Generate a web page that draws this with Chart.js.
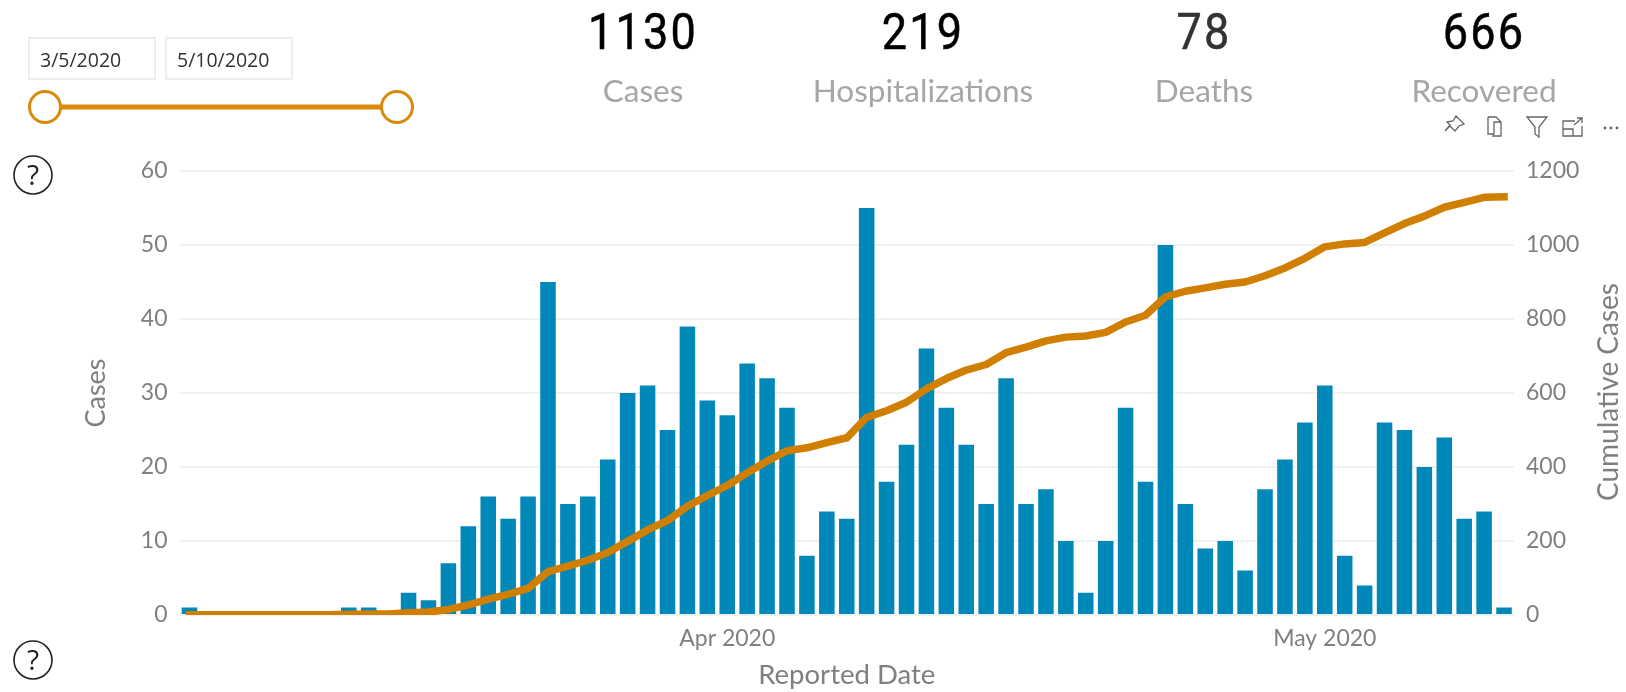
<!DOCTYPE html>
<html><head><meta charset="utf-8">
<script src="https://cdn.jsdelivr.net/npm/chart.js@4"></script>
<style>
html,body{margin:0;padding:0;background:#fff;width:1626px;height:692px;overflow:hidden;font-family:"Open Sans",sans-serif}
#c{position:absolute;left:0;top:0}
.abs{position:absolute;white-space:nowrap}
.kv{transform:translateX(-50%) scaleX(.9);font-family:Roboto,sans-serif;font-weight:400;font-size:50px;color:#000;letter-spacing:2.5px;top:3px;line-height:58px;-webkit-text-stroke:.5px currentColor}
.kl{transform:translateX(-50%);font-size:31.5px;color:#a6a6a6;top:70px;line-height:40px;font-family:Lato,sans-serif}
.date{top:37px;height:43px;border:2px solid #eee;box-sizing:border-box;font-size:19.5px;color:#333;line-height:41px;padding-left:10px;font-family:"Open Sans",sans-serif}
</style></head><body>
<canvas id="c" width="1626" height="692"></canvas>

<div class="abs date" style="left:28px;width:128px">3/5/2020</div>
<div class="abs date" style="left:165px;width:128px">5/10/2020</div>
<svg class="abs" style="left:0;top:0" width="440" height="680">
  <line x1="60" y1="107" x2="382" y2="107" stroke="#D98A0B" stroke-width="5"/>
  <circle cx="45" cy="107" r="15.5" fill="#fff" stroke="#D98A0B" stroke-width="3"/>
  <circle cx="397" cy="107" r="15.5" fill="#fff" stroke="#D98A0B" stroke-width="3"/>
  <circle cx="33" cy="175" r="19" fill="#fff" stroke="#222" stroke-width="1.6"/>
  <text x="33" y="185" text-anchor="middle" font-family="Open Sans" font-size="28" fill="#222">?</text>
  <circle cx="33" cy="660" r="19" fill="#fff" stroke="#222" stroke-width="1.6"/>
  <text x="33" y="670" text-anchor="middle" font-family="Open Sans" font-size="28" fill="#222">?</text>
</svg>

<div class="abs kv" style="left:643px">1130</div>
<div class="abs kv" style="left:923px">219</div>
<div class="abs kv" style="left:1204px;color:#333">78</div>
<div class="abs kv" style="left:1484px">666</div>
<div class="abs kl" style="left:643px">Cases</div>
<div class="abs kl" style="left:923px">Hospitalizations</div>
<div class="abs kl" style="left:1204px">Deaths</div>
<div class="abs kl" style="left:1484px">Recovered</div>

<svg class="abs" style="left:1440px;top:112px" width="186" height="32" fill="none" stroke="#666" stroke-width="1.3">
  <path d="M16 4l8 8-5 2-4 5-5-5-5 5 5-6-3-3 6-1z"/>
  <path d="M48 5h8l5 5v14h-9M48 5v17h6v-12h7"/>
  <path d="M87 5h20l-8 10v10l-4-3v-7z"/>
  <path d="M135 9h-12v15h19v-10M123 17h10v7M134 13l8-7M137 6h5v5"/>
  <circle cx="165" cy="16" r=".8"/><circle cx="171" cy="16" r=".8"/><circle cx="177" cy="16" r=".8"/>
</svg>

<div class="abs" id="rt" style="left:1607px;top:392px;transform:translate(-50%,-50%) rotate(-90deg);font-family:Lato,sans-serif;font-size:28px;color:#7f7f7f">Cumulative Cases</div>

<script>
const categories = ["3/5","3/6","3/7","3/8","3/9","3/10","3/11","3/12","3/13","3/14","3/15","3/16","3/17","3/18","3/19","3/20","3/21","3/22","3/23","3/24","3/25","3/26","3/27","3/28","3/29","3/30","3/31","4/1","4/2","4/3","4/4","4/5","4/6","4/7","4/8","4/9","4/10","4/11","4/12","4/13","4/14","4/15","4/16","4/17","4/18","4/19","4/20","4/21","4/22","4/23","4/24","4/25","4/26","4/27","4/28","4/29","4/30","5/1","5/2","5/3","5/4","5/5","5/6","5/7","5/8","5/9","5/10"];
const cases = [1,0,0,0,0,0,0,0,1,1,0,3,2,7,12,16,13,16,45,15,16,21,30,31,25,39,29,27,34,32,28,8,14,13,55,18,23,36,28,23,15,32,15,17,10,3,10,28,18,50,15,9,10,6,17,21,26,31,8,4,26,25,20,24,13,14,1];
const cumulative = [1,1,1,1,1,1,1,1,2,3,3,6,8,15,27,43,56,72,117,132,148,169,199,230,255,294,323,350,384,416,444,452,466,479,534,552,575,611,639,662,677,709,724,741,751,754,764,792,810,860,875,884,894,900,917,938,964,995,1003,1007,1033,1058,1078,1102,1115,1129,1130];
const monthTicks = {"4/1":"Apr 2020","5/1":"May 2020"};
const leftTickStep = 10, rightTickStep = 200;

const FONT = "Lato, sans-serif", GREY = "#7f7f7f";
new Chart(document.getElementById('c'), {
  data: {
    labels: categories,
    datasets: [
      { type:'line', label:'Cumulative Cases', data:cumulative, yAxisID:'yR', borderColor:'#D17F00', borderWidth:7.5, pointRadius:0, tension:0, order:0, borderJoinStyle:'round', borderCapStyle:'square' },
      { type:'bar', label:'Cases', data:cases, yAxisID:'yL', backgroundColor:'#0088B9', categoryPercentage:1, barPercentage:0.78, order:1 }
    ]
  },
  options: {
    responsive:false, animation:false,
    layout:{padding:{left:80,right:0,top:171,bottom:0}},
    plugins:{legend:{display:false},tooltip:{enabled:false}},
    scales:{
      x:{
        grid:{display:false}, border:{display:false},
        ticks:{autoSkip:false,maxRotation:0,padding:2,color:GREY,font:{family:FONT,size:23},
          callback(v){return monthTicks[this.getLabelForValue(v)]||'';}},
        title:{display:true,text:'Reported Date',color:GREY,padding:{top:4,bottom:0},font:{family:FONT,size:27.5}},
        afterFit(s){s.height=77;}
      },
      yL:{
        position:'left',min:0,max:60,
        grid:{color:'#f0f0f0',lineWidth:2,drawTicks:false},border:{display:false},
        ticks:{stepSize:leftTickStep,padding:12,color:GREY,font:{family:FONT,size:23}},
        title:{display:true,text:'Cases',color:GREY,padding:{top:0,bottom:0},font:{family:FONT,size:27}},
        afterFit(s){s.width=99.5;}
      },
      yR:{
        position:'right',min:0,max:1200,
        grid:{display:false},border:{display:false},
        ticks:{stepSize:rightTickStep,padding:4,color:GREY,font:{family:FONT,size:23},callback(v){return String(v);}},
        afterFit(s){s.width=112;}
      }
    }
  }
});
</script>
</body></html>
